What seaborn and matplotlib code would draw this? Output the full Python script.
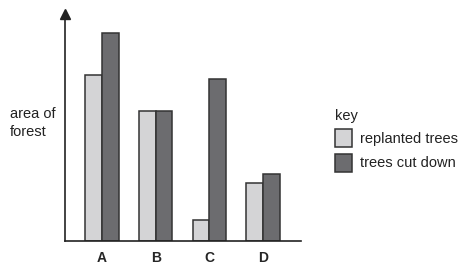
import matplotlib
matplotlib.use("Agg")
import matplotlib.pyplot as plt
import seaborn as sns
import pandas as pd

sites = ["A", "B", "C", "D"]
replanted = [166, 130, 21, 58]
cut_down = [208, 130, 162, 67]
series_names = ["replanted trees", "trees cut down"]

df = pd.DataFrame({
    "site": sites * 2,
    "area": replanted + cut_down,
    "type": [series_names[0]] * 4 + [series_names[1]] * 4,
})

sns.set_style("white")
plt.rcParams["font.family"] = ["Liberation Sans", "DejaVu Sans"]

W, H = 473, 280
fig = plt.figure(figsize=(W / 100, H / 100), dpi=100)
ax = fig.add_axes([65 / W, (H - 241) / H, (301 - 65) / W, (241 - 14) / H])

sns.barplot(data=df, x="site", y="area", hue="type", order=sites,
            hue_order=series_names, palette=["#d4d4d6", "#6b6c70"],
            width=0.62, edgecolor="#333333", linewidth=1.1, ax=ax,
            legend=True)

ax.set_xlim(-0.69, 3.71)
ax.set_ylim(0, 227)
ax.set_xlabel("")
ax.set_ylabel("")
ax.set_yticks([])
ax.tick_params(axis="x", length=0, pad=7)
for lab in ax.get_xticklabels():
    lab.set_fontweight("bold")
    lab.set_fontsize(10)
for s in ["top", "right"]:
    ax.spines[s].set_visible(False)
for s in ["left", "bottom"]:
    ax.spines[s].set_color("#222222")
    ax.spines[s].set_linewidth(1.2)
ax.plot(0, 1, marker="^", markersize=7, color="#222222", transform=ax.transAxes,
        clip_on=False)

fig.text(10 / W, 1 - 123 / H, "area of\nforest", fontsize=10.5, va="center",
         ha="left", linespacing=1.3, color="#222222")

handles, labels = ax.get_legend_handles_labels()
ax.legend_.remove()
leg = fig.legend(handles, labels, title="key", loc="upper left",
                 bbox_to_anchor=(329 / W, 1 - 103 / H), frameon=False,
                 fontsize=10.5, title_fontsize=10.5, alignment="left",
                 handlelength=1.2, handleheight=1.5, handletextpad=0.55,
                 labelspacing=0.45, borderaxespad=0)
for t in leg.get_texts():
    t.set_color("#222222")
leg.get_title().set_color("#222222")

fig.savefig("out.png", dpi=100)
